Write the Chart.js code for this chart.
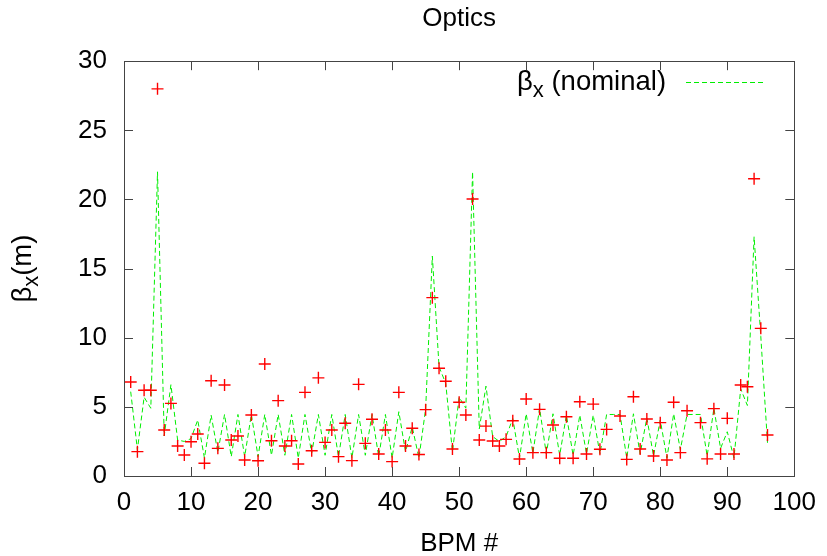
<!DOCTYPE html>
<html>
<head>
<meta charset="utf-8">
<script src="https://cdn.jsdelivr.net/npm/chart.js@4.4.1/dist/chart.umd.min.js"></script>
<style>
  body { margin: 0; background: #fff; }
  canvas { display: block; }
</style>
</head>
<body>
<canvas id="grafico" width="827" height="556"></canvas>
<script>
// numero do BPM (eixo x)
var bpm = [1, 2, 3, 4, 5, 6, 7, 8, 9, 10, 11, 12, 13, 14, 15, 16, 17, 18, 19, 20,
           21, 22, 23, 24, 25, 26, 27, 28, 29, 30, 31, 32, 33, 34, 35, 36, 37, 38, 39, 40,
           41, 42, 43, 44, 45, 46, 47, 48, 49, 50, 51, 52, 53, 54, 55, 56, 57, 58, 59, 60,
           61, 62, 63, 64, 65, 66, 67, 68, 69, 70, 71, 72, 73, 74, 75, 76, 77, 78, 79, 80,
           81, 82, 83, 84, 85, 86, 87, 88, 89, 90, 91, 92, 93, 94, 95, 96];

// beta x nominal (linha verde tracejada)
var beta_nominal = [6.1, 1.9, 5.7, 4.9, 22.0, 2.9, 6.6, 2.6, 2.5, 2.7,
                    4.05, 1.3, 4.4, 1.7, 4.45, 1.4, 4.45, 1.4, 4.45, 1.4,
                    4.45, 1.5, 4.45, 1.5, 4.45, 1.3, 4.45, 1.65, 4.45, 1.5,
                    4.45, 1.4, 4.45, 1.3, 4.45, 1.5, 4.45, 1.4, 4.45, 1.3,
                    4.65, 1.75, 3.55, 1.3, 4.85, 15.9, 7.9, 6.7, 1.75, 5.7,
                    4.9, 22.0, 3.4, 6.5, 2.85, 2.5, 2.85, 4.15, 1.3, 4.5,
                    1.65, 4.9, 1.6, 4.5, 1.5, 4.4, 1.5, 4.4, 1.6, 4.4,
                    1.6, 4.45, 4.45, 4.45, 1.3, 4.5, 1.6, 4.2, 1.45, 4.05,
                    1.3, 4.5, 1.9, 4.45, 4.45, 4.45, 1.45, 4.9, 2.0, 3.2,
                    1.3, 6.3, 5.1, 17.3, 10.1, 2.4];

// beta x medido (cruzes vermelhas), null = BPM sem leitura
var beta_medido = [6.8, 1.76, 6.2, 6.2, 28.0, 3.33, 5.25, 2.17, 1.52, 2.48,
                   3.04, 0.92, 6.89, 2.0, 6.58, 2.6, 2.89, 1.16, 4.41, 1.1,
                   8.1, 2.55, 5.45, 2.17, 2.55, 0.87, 6.05, 1.83, 7.1, 2.43,
                   3.33, 1.4, 3.81, 1.11, 6.63, 2.36, 4.1, 1.59, 3.33, 1.04,
                   6.05, 2.17, 3.45, 1.55, 4.8, 12.9, 7.79, 6.85, 1.95, 5.33,
                   4.41, 20.03, 2.6, 3.61, 2.53, 2.17, 2.65, 4.0, 1.23, 5.57,
                   1.69, 4.82, 1.69, 3.69, 1.28, 4.29, 1.28, 5.37, 1.59, 5.2,
                   1.93, 3.37, null, 4.34, 1.2, 5.73, 1.95, 4.12, 1.45, 3.86,
                   1.16, 5.33, 1.69, 4.72, null, 3.86, 1.24, 4.87, 1.59, 4.17,
                   1.59, 6.58, 6.46, 21.5, 10.68, 2.96];

// marcas dos eixos
var ticks_x = [0, 10, 20, 30, 40, 50, 60, 70, 80, 90, 100];
var ticks_y = [0, 5, 10, 15, 20, 25, 30];

var fonte = '"Liberation Sans", Arial, sans-serif';
var verde = '#00ee00';

// texto "βx" com o x subscrito, seguido do resto
function textoBeta(ctx, x, y, resto) {
  ctx.textBaseline = 'alphabetic';
  ctx.textAlign = 'left';
  ctx.fillStyle = '#000';
  ctx.font = '27.5px ' + fonte;
  ctx.fillText('β', x, y);
  x += ctx.measureText('β').width;
  ctx.font = '22px ' + fonte;
  ctx.fillText('x', x, y + 7);
  x += ctx.measureText('x').width;
  ctx.font = '27.5px ' + fonte;
  ctx.fillText(resto, x, y);
  return x + ctx.measureText(resto).width;
}

function larguraBeta(ctx, resto) {
  ctx.font = '27.5px ' + fonte;
  var w = ctx.measureText('β').width + ctx.measureText(resto).width;
  ctx.font = '22px ' + fonte;
  return w + ctx.measureText('x').width;
}

// moldura, marcas internas (estilo gnuplot), titulo do eixo y e legenda
var moldura = {
  id: 'moldura',
  afterDatasetsDraw: function(chart) {
    var ctx = chart.ctx;
    var a = chart.chartArea;
    var sx = chart.scales.x, sy = chart.scales.y;
    ctx.save();
    ctx.strokeStyle = '#444';
    ctx.lineWidth = 1;
    ctx.beginPath();
    sx.ticks.forEach(function(t) {
      var px = Math.round(sx.getPixelForValue(t.value)) + 0.5;
      ctx.moveTo(px, a.bottom); ctx.lineTo(px, a.bottom - 9);
      ctx.moveTo(px, a.top); ctx.lineTo(px, a.top + 9);
    });
    sy.ticks.forEach(function(t) {
      var py = Math.round(sy.getPixelForValue(t.value)) + 0.5;
      ctx.moveTo(a.left, py); ctx.lineTo(a.left + 9, py);
      ctx.moveTo(a.right, py); ctx.lineTo(a.right - 9, py);
    });
    ctx.stroke();
    ctx.strokeRect(Math.round(a.left) + 0.5, Math.round(a.top) + 0.5,
                   Math.round(a.right - a.left), Math.round(a.bottom - a.top));

    // legenda
    var ds = chart.data.datasets[1];
    var xl = 517, yl = 90;
    textoBeta(ctx, xl, yl, ' (nominal)');
    ctx.strokeStyle = ds.borderColor;
    ctx.lineWidth = 1;
    ctx.setLineDash(ds.borderDash);
    ctx.beginPath();
    ctx.moveTo(686, 82.5); ctx.lineTo(763, 82.5);
    ctx.stroke();
    ctx.setLineDash([]);

    // titulo do eixo y
    var meio = (a.top + a.bottom) / 2;
    ctx.translate(31, meio);
    ctx.rotate(-Math.PI / 2);
    var w = larguraBeta(ctx, '(m)');
    textoBeta(ctx, -w / 2, 0, '(m)');
    ctx.restore();
  }
};

const grafico = document.getElementById('grafico');

new Chart(grafico, {
  type: 'line',
  data: {
    datasets: [{
      label: 'βx (medido)',
      data: bpm.map(function(b, i) { return { x: b, y: beta_medido[i] }; }),
      showLine: false,
      pointStyle: 'cross',
      pointRadius: 6,
      pointBorderWidth: 1.4,
      borderColor: '#ff0000',
      backgroundColor: '#ff0000'
    }, {
      label: 'βx (nominal)',
      data: bpm.map(function(b, i) { return { x: b, y: beta_nominal[i] }; }),
      borderColor: verde,
      borderWidth: 1,
      borderDash: [5, 3],
      pointRadius: 0,
      tension: 0,
      fill: false
    }]
  },
  options: {
    responsive: false,
    animation: false,
    devicePixelRatio: 1,
    layout: { padding: { left: 0, right: 30, top: 0, bottom: 0 } },
    plugins: {
      legend: { display: false },
      tooltip: { enabled: false },
      title: {
        display: true,
        fullSize: false,
        text: 'Optics',
        color: '#000',
        font: { family: fonte, size: 26, weight: 'normal' },
        padding: { top: 3, bottom: 27 }
      }
    },
    scales: {
      x: {
        type: 'linear',
        min: 0,
        max: 100,
        afterFit: function(s) { s.height = 80; },
        afterBuildTicks: function(s) { s.ticks = ticks_x.map(function(v) { return { value: v }; }); },
        grid: { display: false, drawTicks: false },
        border: { display: false },
        ticks: { color: '#000', padding: 11, maxRotation: 0, font: { family: fonte, size: 26 } },
        title: {
          display: true,
          text: 'BPM #',
          color: '#000',
          font: { family: fonte, size: 26, lineHeight: 0.9 },
          padding: { top: 0, bottom: 0 }
        }
      },
      y: {
        min: 0,
        max: 30,
        afterFit: function(s) { s.width = 124; },
        afterBuildTicks: function(s) { s.ticks = ticks_y.map(function(v) { return { value: v }; }); },
        grid: { display: false, drawTicks: false },
        border: { display: false },
        ticks: { color: '#000', padding: 17, font: { family: fonte, size: 26 } }
      }
    }
  },
  plugins: [moldura]
});
</script>
</body>
</html>
